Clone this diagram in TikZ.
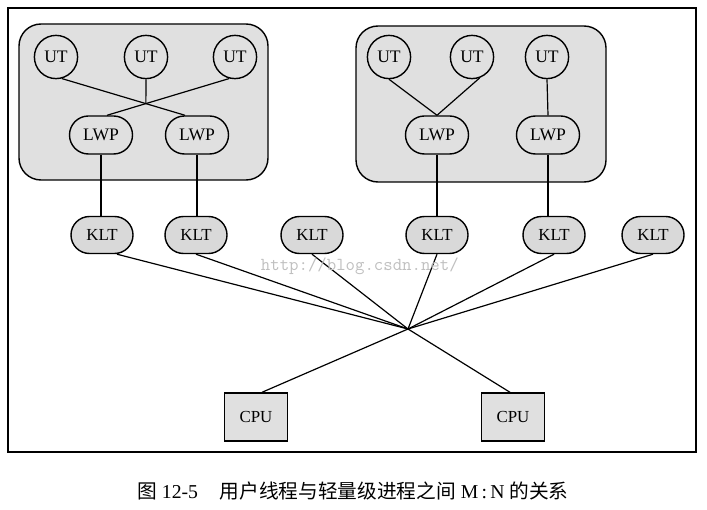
\documentclass[tikz,border=0pt]{standalone}
\usepackage{fontspec}
\setmainfont{Liberation Serif}
\newfontfamily\cjk{Noto Sans CJK SC}
\usetikzlibrary{shapes.misc,calc}

\begin{document}
\begin{tikzpicture}[x=0.025cm,y=-0.025cm]
            \tikzset{
                grp/.style={draw, line width=1pt, fill=black!12, rounded corners=0.55cm},
                ut/.style={circle, draw, line width=1pt, fill=black!12,
                    minimum size=1.08cm, inner sep=0pt,
                    font=\fontsize{12.5}{14}\selectfont},
                lwp/.style={rounded rectangle, draw, line width=1pt, fill=black!12,
                    minimum width=1.575cm, minimum height=0.95cm, inner sep=0pt,
                    font=\fontsize{12.5}{14}\selectfont},
                klt/.style={lwp, minimum width=1.55cm, minimum height=0.925cm,
                    fill=black!15, font=\fontsize{12}{14}\selectfont},
                cpu/.style={rectangle, draw, line width=1pt, fill=black!12,
                    minimum width=1.575cm, minimum height=1.2cm,
                    font=\fontsize{12}{14}\selectfont},
                link/.style={line width=0.85pt}
            }
            \useasboundingbox (0,0) rectangle (707,510);
            \draw[line width=0.85pt] (8,8) rectangle (696,452);

            % two processes
            \draw[grp] (19,24) rectangle (268,180);
            \draw[grp] (356,26) rectangle (606,182);

            \foreach \x/\n in {56/1, 146/2, 235/3, 389/4, 472/5, 547/6} {
                \node[ut] (ut\n) at (\x,57) {UT};
            }
            \foreach \x/\n in {101/1, 197/2, 437/3, 548/4} {
                \node[lwp] (lwp\n) at (\x,135) {LWP};
            }
            \foreach \x/\n in {102/1, 196/2, 312/3, 437/4, 554/5, 653/6} {
                \node[klt] (klt\n) at (\x,235) {KLT};
            }
            \node[cpu] (cpu1) at (256,417) {CPU};
            \node[cpu] (cpu2) at (513,417) {CPU};
            \coordinate (hub) at (408,329);

            % user threads -> LWPs
            \coordinate (o1) at (ut1.-75);
            \coordinate (o3) at (ut3.-105);
            \coordinate (in1) at ($(lwp1.north)+(6,0)$);
            \coordinate (in2) at ($(lwp2.north)+(-12,0)$);
            \draw[link] (o1) -- (in2);
            \draw[link] (o3) -- (in1);
            \coordinate (cross) at (intersection of o1--in2 and o3--in1);
            \draw[link] (ut2.south) -- (cross);

            \draw[link] (ut4.south) -- (lwp3.north);
            \draw[link] (ut5.-70) -- (lwp3.north);
            \draw[link] (ut6.south) -- (lwp4.north);

            % LWPs -> KLTs
            \foreach \a/\b in {1/1, 2/2, 3/4, 4/5} {
                \draw[link] (lwp\a.south) -- (lwp\a.south |- klt\b.north);
            }

            % KLTs -> CPUs
            \draw[link] ($(klt1.south)+(15,0)$) -- (hub);
            \foreach \n in {2,...,6} {
                \draw[link] (klt\n.south) -- (hub);
            }
            \draw[link] (hub) -- ($(cpu1.north)+(6,0)$);
            \draw[link] (hub) -- ($(cpu2.north)+(-3,0)$);

            \node[anchor=west, text=black!25,
                font=\ttfamily\fontsize{13}{15}\selectfont]
                (mark) at (256,266) {http://blog.csdn.net/};

            \node[font=\fontsize{14}{16}\selectfont] (caption) at (353,491)
                {{\cjk 图}\ 12-5\hspace{1.1em}{\cjk 用户线程与轻量级进程之间}\ M\,:\,N\ {\cjk 的关系}};
        \end{tikzpicture}
\end{document}
